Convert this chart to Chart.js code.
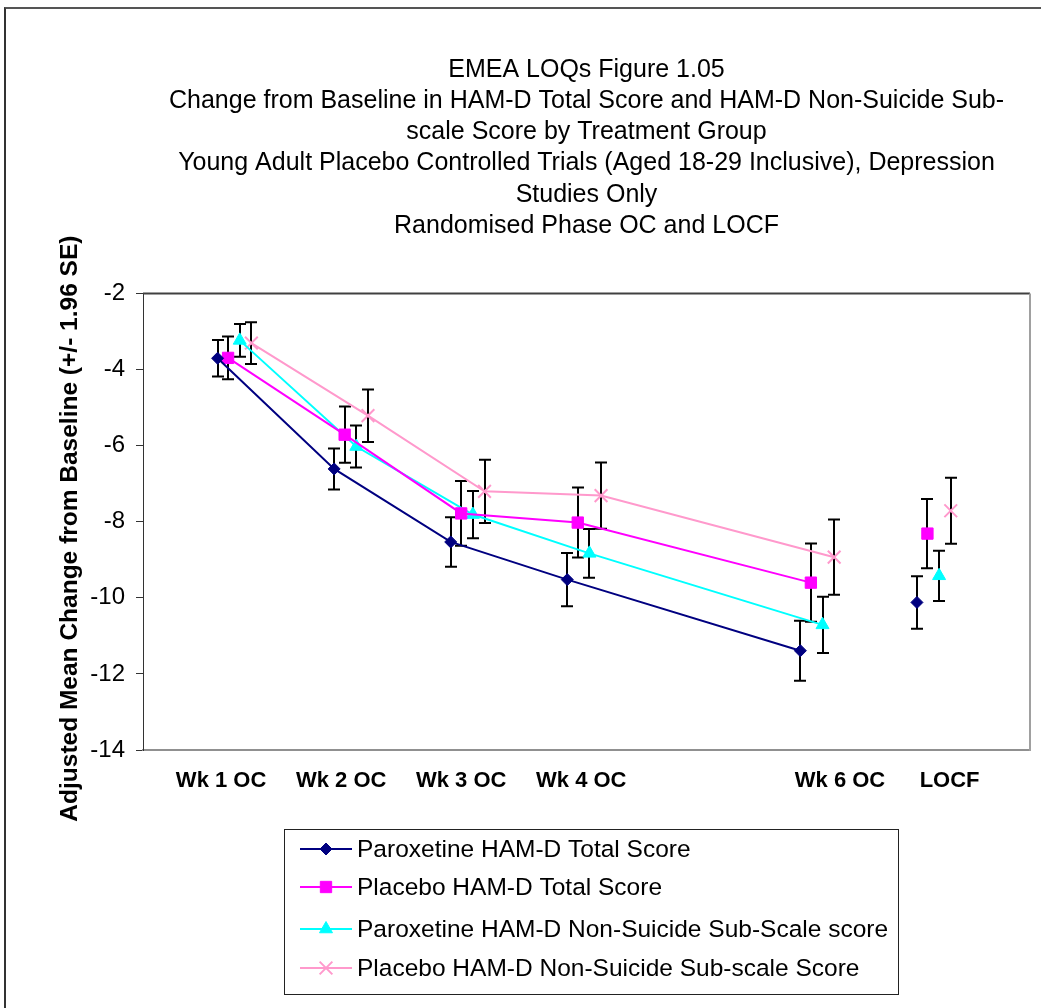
<!DOCTYPE html>
<html>
<head>
<meta charset="utf-8">
<script src="https://cdn.jsdelivr.net/npm/chart.js@4.4.1/dist/chart.umd.min.js"></script>
<style>
  body { margin: 0; background: #fff; overflow: hidden; }
  #wrap { position: relative; width: 1041px; height: 1008px; }
  #frame { position: absolute; left: 4px; top: 7px; width: 1100px; height: 1100px;
           border-left: 2px solid #333; border-top: 2px solid #555; pointer-events: none; }
</style>
</head>
<body>
<div id="wrap">
  <canvas id="chart" width="1041" height="1008"></canvas>
  <div id="frame"></div>
</div>
<script>
const categories = ["Wk 1 OC", "Wk 2 OC", "Wk 3 OC", "Wk 4 OC", "Wk 6 OC", "LOCF"];
const weekX = [1, 2, 3, 4, 6, 7];
// LOCF is not joined to the weekly line
const joined = [false, true, true, true, true, false];

const paroxTotal    = [-3.70, -6.61, -8.53, -9.52, -11.39, -10.12];
const paroxTotalErr = [0.48, 0.54, 0.65, 0.70, 0.79, 0.69];
const placTotal     = [-3.69, -5.71, -7.78, -8.02, -9.60, -8.31];
const placTotalErr  = [0.56, 0.74, 0.85, 0.92, 1.03, 0.91];
const paroxNS       = [-3.23, -6.02, -7.81, -8.83, -10.71, -9.42];
const paroxNSErr    = [0.43, 0.55, 0.62, 0.64, 0.74, 0.66];
const placNS        = [-3.30, -5.21, -7.20, -7.31, -8.93, -7.71];
const placNSErr     = [0.55, 0.69, 0.83, 0.87, 0.99, 0.87];

const yTicks = [-14, -12, -10, -8, -6, -4, -2];

// layout bits (not data)
const seriesShift = [0, 0.09, 0.19, 0.29];
const labelX = [1.03, 2.06, 3.09, 4.12, 6.34, 7.28];
const FONT = "Arial, 'Liberation Sans', sans-serif";

function makeSeries(label, values, errs, shift, color, style, radius, bw) {
    return {
        label: label,
        data: weekX.map((w, i) => ({ x: w + shift, y: values[i] })),
        errors: errs,
        borderColor: color,
        backgroundColor: color,
        borderWidth: 2,
        pointStyle: style,
        pointRadius: radius,
        pointHoverRadius: radius,
        pointBorderWidth: bw,
        pointBackgroundColor: color,
        pointBorderColor: color,
        tension: 0,
        segment: {
            borderColor: ctx => joined[ctx.p1DataIndex] ? color : "rgba(0,0,0,0)"
        }
    };
}

const errorBars = {
    id: "errorBars",
    beforeDatasetsDraw(chart) {
        const ctx = chart.ctx;
        const y = chart.scales.y;
        const a = chart.chartArea;
        ctx.save();
        // plot area frame: dark top, grey right
        ctx.lineWidth = 2;
        ctx.strokeStyle = "#404040";
        ctx.beginPath(); ctx.moveTo(a.left, a.top); ctx.lineTo(a.right, a.top); ctx.stroke();
        ctx.strokeStyle = "#a0a0a0";
        ctx.beginPath(); ctx.moveTo(a.right, a.top); ctx.lineTo(a.right, a.bottom + 1); ctx.stroke();

        ctx.strokeStyle = "#000";
        ctx.lineWidth = 2;
        chart.data.datasets.forEach((ds, di) => {
            const meta = chart.getDatasetMeta(di);
            meta.data.forEach((pt, i) => {
                const v = ds.data[i].y, e = ds.errors[i];
                const top = y.getPixelForValue(v + e);
                const bot = y.getPixelForValue(v - e);
                const x = Math.round(pt.x);
                ctx.beginPath();
                ctx.moveTo(x, top); ctx.lineTo(x, bot);
                ctx.moveTo(x - 6, top); ctx.lineTo(x + 6, top);
                ctx.moveTo(x - 6, bot); ctx.lineTo(x + 6, bot);
                ctx.stroke();
            });
        });
        ctx.restore();
    }
};

const boxLegend = {
    id: "boxLegend",
    afterDraw(chart) {
        const ctx = chart.ctx;
        const left = 284, top = 829, w = 614, h = 165;
        const rows = [849, 887, 929, 968];
        ctx.save();
        ctx.strokeStyle = "#222";
        ctx.lineWidth = 1;
        ctx.strokeRect(left + 0.5, top + 0.5, w, h);
        chart.data.datasets.forEach((ds, i) => {
            const yy = rows[i];
            ctx.strokeStyle = ds.borderColor;
            ctx.lineWidth = 2;
            ctx.beginPath(); ctx.moveTo(left + 16, yy); ctx.lineTo(left + 68, yy); ctx.stroke();
            ctx.fillStyle = ds.pointBackgroundColor;
            ctx.lineWidth = ds.pointBorderWidth;
            Chart.helpers.drawPoint(ctx, {
                pointStyle: ds.pointStyle, radius: ds.pointRadius,
                borderWidth: ds.pointBorderWidth, rotation: 0
            }, left + 42, yy);
            ctx.fillStyle = "#000";
            ctx.font = "24.5px " + FONT;
            ctx.textBaseline = "middle";
            ctx.textAlign = "left";
            ctx.fillText(ds.label, left + 73, yy + 1);
        });
        ctx.restore();
    }
};

new Chart(document.getElementById("chart"), {
    type: "line",
    data: {
        datasets: [
            makeSeries("Paroxetine HAM-D Total Score", paroxTotal, paroxTotalErr, seriesShift[0], "#000080", "rectRot", 6, 1),
            makeSeries("Placebo HAM-D Total Score", placTotal, placTotalErr, seriesShift[1], "#ff00ff", "rect", 8, 1),
            makeSeries("Paroxetine HAM-D Non-Suicide Sub-Scale score", paroxNS, paroxNSErr, seriesShift[2], "#00ffff", "triangle", 7.5, 1),
            makeSeries("Placebo HAM-D Non-Suicide Sub-scale Score", placNS, placNSErr, seriesShift[3], "#ff99cc", "crossRot", 9, 2)
        ]
    },
    options: {
        responsive: false,
        animation: false,
        events: [],
        layout: { padding: { left: 0, right: 6, top: 0, bottom: 0 } },
        plugins: {
            legend: { display: false },
            tooltip: { enabled: false },
            title: {
                display: true,
                fullSize: false,
                text: [
                    "EMEA LOQs Figure 1.05",
                    "Change from Baseline in HAM-D Total Score and HAM-D Non-Suicide Sub-",
                    "scale Score by Treatment Group",
                    "Young Adult Placebo Controlled Trials (Aged 18-29 Inclusive), Depression",
                    "Studies Only",
                    "Randomised Phase OC and LOCF"
                ],
                color: "#000",
                font: { family: FONT, size: 25, weight: "normal", lineHeight: 31.2 / 25 },
                padding: { top: 54.4, bottom: 52 }
            }
        },
        scales: {
            x: {
                type: "linear",
                min: 0.36,
                max: 7.97,
                afterFit(scale) { scale.height = 258; },
                afterBuildTicks(scale) { scale.ticks = labelX.map(v => ({ value: v })); },
                grid: { display: false, drawTicks: false },
                border: { display: true, color: "#909090", width: 2 },
                ticks: {
                    autoSkip: false,
                    maxRotation: 0,
                    padding: 18,
                    color: "#000",
                    font: { family: FONT, size: 22, weight: "bold" },
                    callback: (v, i) => categories[i]
                }
            },
            y: {
                min: -14,
                max: -2,
                afterFit(scale) { scale.width = 143; },
                afterBuildTicks(scale) { scale.ticks = yTicks.map(v => ({ value: v })); },
                grid: { drawOnChartArea: false, drawTicks: true, tickLength: 7, color: "#333", lineWidth: 1 },
                border: { display: true, color: "#333", width: 1 },
                ticks: {
                    padding: 11,
                    color: "#000",
                    font: { family: FONT, size: 24 }
                },
                title: {
                    display: true,
                    text: "Adjusted Mean Change from Baseline (+/- 1.96 SE)  ",
                    color: "#000",
                    font: { family: FONT, size: 24.5, weight: "bold" },
                    padding: { top: 55.3, bottom: 0 }
                }
            }
        }
    },
    plugins: [errorBars, boxLegend]
});
</script>
</body>
</html>
